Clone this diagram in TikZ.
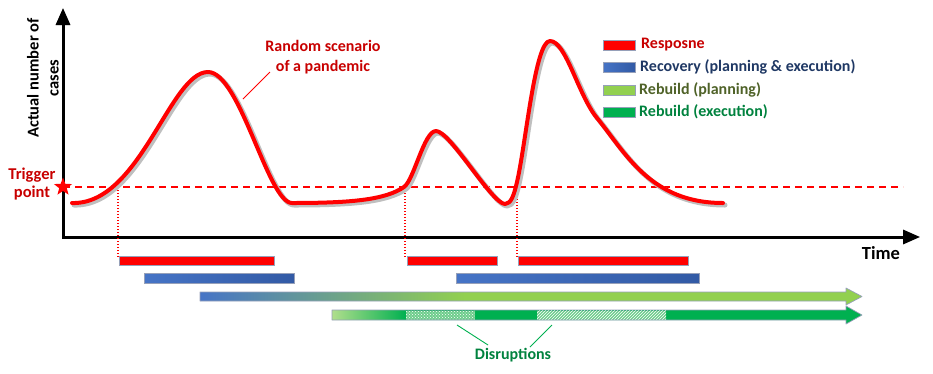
\documentclass[tikz,border=0pt]{standalone}
\usepackage{fontspec}
\setmainfont{Carlito}
\usetikzlibrary{arrows.meta,shapes.geometric,patterns}
\definecolor{cred}{RGB}{255,0,0}
\definecolor{ctred}{RGB}{200,0,0}
\definecolor{cblue}{RGB}{70,116,198}
\definecolor{cdblue}{RGB}{50,90,165}
\definecolor{clgreen}{RGB}{146,208,80}
\definecolor{cpgreen}{RGB}{176,222,140}
\definecolor{cgreen}{RGB}{0,176,80}
\definecolor{chatch}{RGB}{110,205,140}
\definecolor{ctblue}{RGB}{31,56,100}
\definecolor{ctolive}{RGB}{79,98,40}
\definecolor{ctgreen}{RGB}{0,130,62}
\definecolor{cborder}{RGB}{150,160,185}
\pgfdeclarehorizontalshading{bgshade}{100bp}{color(0bp)=(cblue); color(25bp)=(cblue); color(45bp)=(clgreen); color(100bp)=(clgreen)}
\pgfdeclarehorizontalshading{ggshade}{100bp}{color(0bp)=(cpgreen); color(25bp)=(cpgreen); color(32bp)=(cgreen); color(100bp)=(cgreen)}
\tikzset{
  barbox/.style={draw=cborder, line width=0.7pt},
  redbar/.style={barbox, fill=cred},
  bluebar/.style={barbox, left color=cblue, right color=cdblue},
  fs/.style={font=\bfseries\fontsize{#1}{20}\selectfont},
  leader/.style={line width=0.9pt},
  vdot/.style={draw=cred, line width=1.3pt, dash pattern=on 1.3pt off 1.7pt},
}
\begin{document}
\begin{tikzpicture}[x=1pt,y=-1pt]
\path[use as bounding box] (0,0) rectangle (933,373);
% coordinates
\coordinate (ytop) at (63,8);
\coordinate (origin) at (63,237);
\coordinate (xend) at (920,237);
\coordinate (trigL) at (63,187);
\coordinate (trigR) at (903,187);
% axes
\draw[black!30, line width=3pt, shift={(2,2)}, {Triangle[length=17pt,width=14pt]}-{Triangle[length=17pt,width=14pt]}] (ytop) -- (origin) -- (xend);
\draw[black, line width=3pt, {Triangle[length=17pt,width=14pt]}-{Triangle[length=17pt,width=14pt]}] (ytop) -- (origin) -- (xend);
% trigger line
\draw[draw=cred, line width=1.3pt, dash pattern=on 7pt off 5pt] (trigL) -- (trigR);
% vertical dotted lines
\coordinate (v1t) at (118,187); \coordinate (v1b) at (118,258);
\coordinate (v2t) at (405,187); \coordinate (v2b) at (405,258);
\coordinate (v3t) at (517,187); \coordinate (v3b) at (517,258);
\draw[vdot] (v1t) -- (v1b);
\draw[vdot] (v2t) -- (v2b);
\draw[vdot] (v3t) -- (v3b);
% curve
\foreach \s/\c/\w in {2/black!25/5pt, 0/cred/4pt}{
\draw[shift={(\s,\s)}, draw=\c, line width=\w, line join=round, line cap=round]
 (72,203) .. controls (140,205) and (170,72) .. (208,72)
 .. controls (240,72) and (268,203) .. (292,203)
 .. controls (350,203) and (385,200) .. (404,187)
 .. controls (414,180) and (424,131) .. (436,131)
 .. controls (450,131) and (492,204) .. (505,204)
 .. controls (511,204) and (514,195) .. (517,182)
 .. controls (526,143) and (535,41) .. (550,41)
 .. controls (566,41) and (578,95) .. (597,118)
 .. controls (625,152) and (650,203) .. (723,203);
}
% star
\node[star, star points=5, star point ratio=2.4, fill=cred, minimum size=19pt, inner sep=0pt] (star) at (63,187) {};
% texts
\node[fs=16, text=ctred, align=center] (rs) at (323,57) {Random scenario\\of a pandemic};
\coordinate (rs1) at (270,72); \coordinate (rs2) at (243,99);
\draw[draw=cred, leader] (rs1) -- (rs2);
\node[fs=16.5, rotate=90, align=center] (ylab) at (43,78) {Actual number of\\cases};
\node[text=ctred, align=center, font=\bfseries\fontsize{16.5}{18}\selectfont] (trig) at (32,184) {Trigger\\point};
\node[fs=18.5] (time) at (881,253) {Time};
% legend
\path[redbar] (603,40) rectangle (635,50);
\path[bluebar] (603,62) rectangle (635,72);
\path[barbox, fill=clgreen] (603,85) rectangle (635,95);
\path[barbox, fill=cgreen] (603,107) rectangle (635,117);
\node[fs=16, text=ctred, anchor=west, inner sep=0pt] (l1) at (641,45) {Resposne};
\node[fs=16, text=ctblue, anchor=west, inner sep=0pt] (l2) at (640,67) {Recovery (planning \& execution)};
\node[fs=16, text=ctolive, anchor=west, inner sep=0pt] (l3) at (639,90) {Rebuild (planning)};
\node[fs=16, text=ctgreen, anchor=west, inner sep=0pt] (l4) at (639,112) {Rebuild (execution)};
% response bars
\path[redbar] (119,256) rectangle (274,265);
\path[redbar] (407,256) rectangle (497,265);
\path[redbar] (518,256) rectangle (688,265);
% recovery bars
\path[bluebar] (144,273) rectangle (294,283);
\path[bluebar] (456,273) rectangle (699,283);
% rebuild planning arrow
\path[shading=bgshade] (200,292) -- (846,292) -- (846,288) -- (862,296.5) -- (846,305) -- (846,301) -- (200,301) -- cycle;
\draw[cborder, line width=0.7pt, line join=round] (200,292) -- (846,292) -- (846,288) -- (862,296.5) -- (846,305) -- (846,301) -- (200,301) -- cycle;
% rebuild execution arrow
\path[shading=ggshade] (332,310) -- (846,310) -- (846,306) -- (862,315) -- (846,324) -- (846,320) -- (332,320) -- cycle;
% disruptions
\fill[chatch] (406,310.5) rectangle (475,319.5);
\fill[pattern=crosshatch dots, pattern color=white] (406,310.5) rectangle (475,319.5);
\fill[chatch] (537,310.5) rectangle (666,319.5);
\fill[pattern=north east lines, pattern color=white] (537,310.5) rectangle (666,319.5);
\draw[cborder, line width=0.7pt, line join=round] (332,310) -- (846,310) -- (846,306) -- (862,315) -- (846,324) -- (846,320) -- (332,320) -- cycle;
\node[fs=16, text=ctgreen] (disr) at (513,355) {Disruptions};
\coordinate (d1a) at (457,325); \coordinate (d1b) at (488,345);
\coordinate (d2a) at (552,325); \coordinate (d2b) at (530,347);
\draw[leader, draw=cgreen] (d1a) -- (d1b);
\draw[leader, draw=cgreen] (d2a) -- (d2b);
\end{tikzpicture}
\end{document}
